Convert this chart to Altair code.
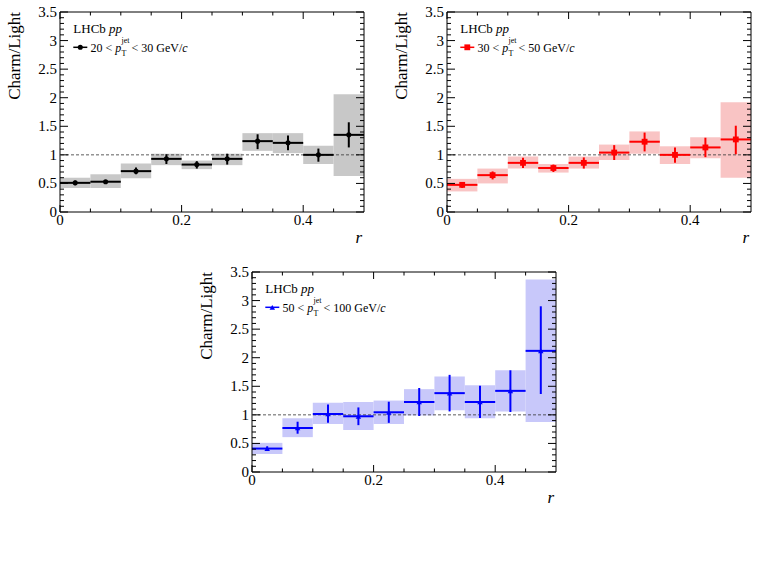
import altair as alt
import pandas as pd

# ---------------- data ----------------
r_edges = [0.0, 0.05, 0.10, 0.15, 0.20, 0.25, 0.30, 0.35, 0.40, 0.45, 0.50]

val1 = [0.51, 0.53, 0.715, 0.93, 0.83, 0.93, 1.24, 1.21, 1.00, 1.35]
box1_lo = [0.42, 0.42, 0.59, 0.82, 0.75, 0.82, 1.07, 1.03, 0.84, 0.63]
box1_hi = [0.60, 0.66, 0.85, 1.02, 0.90, 1.02, 1.38, 1.38, 1.16, 2.06]
err1_lo = [0.47, 0.51, 0.66, 0.84, 0.76, 0.83, 1.10, 1.08, 0.88, 1.13]
err1_hi = [0.55, 0.55, 0.78, 1.01, 0.89, 1.02, 1.36, 1.34, 1.11, 1.57]

val2 = [0.475, 0.645, 0.86, 0.77, 0.86, 1.04, 1.23, 1.00, 1.13, 1.27]
box2_lo = [0.36, 0.50, 0.76, 0.69, 0.76, 0.91, 1.02, 0.84, 0.94, 0.60]
box2_hi = [0.58, 0.76, 0.97, 0.84, 0.97, 1.18, 1.41, 1.15, 1.31, 1.92]
err2_lo = [0.42, 0.57, 0.77, 0.70, 0.76, 0.91, 1.06, 0.86, 0.96, 1.01]
err2_hi = [0.52, 0.71, 0.95, 0.83, 0.955, 1.17, 1.39, 1.13, 1.30, 1.51]

val3 = [0.41, 0.77, 1.015, 0.975, 1.045, 1.225, 1.38, 1.225, 1.42, 2.12]
box3_lo = [0.315, 0.61, 0.84, 0.735, 0.84, 0.99, 1.08, 0.94, 1.06, 0.875]
box3_hi = [0.51, 0.94, 1.21, 1.225, 1.25, 1.45, 1.67, 1.52, 1.78, 3.37]
err3_lo = [0.37, 0.67, 0.86, 0.82, 0.86, 0.98, 1.06, 0.945, 1.05, 1.365]
err3_hi = [0.45, 0.88, 1.18, 1.13, 1.23, 1.47, 1.70, 1.51, 1.78, 2.90]

pt_ranges = [("20", "30"), ("30", "50"), ("50", "100")]
ref_level = [1.0]

x_major = [0.0, 0.2, 0.4]
x_labels = ["0", "0.2", "0.4"]
x_minor = [0.05, 0.10, 0.15, 0.25, 0.30, 0.35, 0.45]
y_major = [0.0, 0.5, 1.0, 1.5, 2.0, 2.5, 3.0, 3.5]
y_labels = ["0", "0.5", "1", "1.5", "2", "2.5", "3", "3.5"]
y_minor = [0.1, 0.2, 0.3, 0.4, 0.6, 0.7, 0.8, 0.9, 1.1, 1.2, 1.3, 1.4,
           1.6, 1.7, 1.8, 1.9, 2.1, 2.2, 2.3, 2.4, 2.6, 2.7, 2.8, 2.9,
           3.1, 3.2, 3.3, 3.4]
x_title = "r"
y_title = "Charm/Light"

# ---------------- style ----------------
SERIF = "Liberation Serif, Times New Roman, serif"
W, H = 304, 200
CW = {"0": .5, "1": .5, "2": .5, "3": .5, "5": .5, " ": .25, "<": .564,
      "G": .722, "e": .444, "V": .722, "/": .278, "L": .611, "H": .722,
      "C": .667, "b": .5, "p": .5, "c": .444}


def tw(s, size):
    return sum(CW.get(ch, 0.5) for ch in s) * size


ONE = pd.DataFrame({"one": ref_level})
xs = alt.Scale(domain=[0, 0.5], nice=False, zero=False)
ys = alt.Scale(domain=[0, 3.5], nice=False, zero=False)


def X(f):
    return alt.X(f, scale=xs, axis=None)


def Y(f):
    return alt.Y(f, scale=ys, axis=None)


def txt(s, x, y, size, italic=False, align="left", angle=0):
    kw = dict(text=s, font=SERIF, fontSize=size, align=align,
              baseline="alphabetic", color="black")
    if italic:
        kw["fontStyle"] = "italic"
    if angle:
        kw["angle"] = angle
    return alt.Chart(ONE).mark_text(**kw).encode(x=alt.value(x), y=alt.value(y))


def pin(x, y):
    # invisible 1px anchor that fixes the layout bounds
    return alt.Chart(ONE).mark_rect(opacity=0).encode(
        x=alt.value(x), x2=alt.value(x + 1), y=alt.value(y), y2=alt.value(y + 1))


def ticks(vals, side, length):
    df = pd.DataFrame({"t": vals})
    c = alt.Chart(df).mark_rule(color="black", strokeWidth=1)
    if side == "left":
        return c.encode(y=Y("t:Q"), x=alt.value(0), x2=alt.value(length))
    if side == "right":
        return c.encode(y=Y("t:Q"), x=alt.value(W), x2=alt.value(W - length))
    if side == "bottom":
        return c.encode(x=X("t:Q"), y=alt.value(H), y2=alt.value(H - length))
    return c.encode(x=X("t:Q"), y=alt.value(0), y2=alt.value(length))


def tick_labels():
    LF = 15
    xl = alt.Chart(pd.DataFrame({"t": x_major, "s": x_labels})).mark_text(
        font=SERIF, fontSize=LF, align="center", baseline="alphabetic", color="black"
    ).encode(x=X("t:Q"), y=alt.value(H + 13), text="s:N")
    yl = alt.Chart(pd.DataFrame({"t": y_major, "s": y_labels})).mark_text(
        font=SERIF, fontSize=LF, align="right", baseline="middle", color="black"
    ).encode(y=Y("t:Q"), x=alt.value(-3), text="s:N")
    xt = txt(x_title, W - 2, H + 31, 17, italic=True, align="right")
    yt = txt(y_title, -40, 0, 17, align="right", angle=270)
    return [xl, yl, xt, yt]


def panel(vals, blo, bhi, elo, ehi, color, fill, shape, msize, pt, extra=()):
    df = pd.DataFrame({
        "x0": r_edges[:-1], "x1": r_edges[1:],
        "val": vals, "blo": blo, "bhi": bhi, "elo": elo, "ehi": ehi,
    })
    df["xc"] = (df["x0"] + df["x1"]) / 2
    base = alt.Chart(df)

    boxes = base.mark_rect(color=fill, opacity=1).encode(
        x=X("x0:Q"), x2="x1:Q", y=Y("blo:Q"), y2="bhi:Q")
    dashed = alt.Chart(ONE).mark_rule(color="#333333", strokeWidth=0.8, strokeDash=[3, 2]).encode(
        y=Y("one:Q"))
    hbar = base.mark_rule(color=color, strokeWidth=2).encode(
        x=X("x0:Q"), x2="x1:Q", y=Y("val:Q"))
    vbar = base.mark_rule(color=color, strokeWidth=2).encode(
        x=X("xc:Q"), y=Y("elo:Q"), y2="ehi:Q")
    pts = base.mark_point(filled=True, opacity=1, color=color, shape=shape, size=msize).encode(
        x=X("xc:Q"), y=Y("val:Q"))

    frame = alt.Chart(ONE).mark_rect(fillOpacity=0, stroke="black", strokeWidth=1).encode(
        x=alt.value(0), x2=alt.value(W), y=alt.value(0), y2=alt.value(H))

    layers = [boxes, dashed, hbar, vbar, pts,
              ticks(y_major, "left", 8), ticks(y_minor, "left", 4),
              ticks(y_major, "right", 8), ticks(y_minor, "right", 4),
              ticks(x_major, "bottom", 7), ticks(x_minor, "bottom", 3.5),
              ticks(x_major, "top", 7), ticks(x_minor, "top", 3.5),
              frame] + tick_labels()

    # legend block
    lx = 13.3
    layers.append(txt("LHCb", lx, 21.3, 13))
    layers.append(txt("pp", lx + tw("LHCb ", 13), 21.3, 13, italic=True))
    layers.append(alt.Chart(ONE).mark_rule(color=color, strokeWidth=1.5).encode(
        x=alt.value(lx), x2=alt.value(lx + 14), y=alt.value(35.3)))
    layers.append(alt.Chart(ONE).mark_point(filled=True, opacity=1, color=color, shape=shape,
                                            size=msize).encode(x=alt.value(lx + 7), y=alt.value(35.3)))
    fs = 12
    bx = 30.5
    lo, hi = pt
    s1 = f"{lo} < "
    layers.append(txt(s1, bx, 39.5, fs))
    px = bx + tw(s1, fs)
    layers.append(txt("p", px, 39.5, fs, italic=True))
    sx = px + 6.2
    layers.append(txt("jet", sx, 31, 8))
    layers.append(txt("T", sx, 43.5, 8))
    s2 = f"< {hi} GeV/"
    x2 = sx + 10
    layers.append(txt(s2, x2, 39.5, fs))
    layers.append(txt("c", x2 + tw(s2, fs), 39.5, fs, italic=True))

    layers.extend(extra)
    return alt.layer(*layers).properties(width=W, height=H)


p1 = panel(val1, box1_lo, box1_hi, err1_lo, err1_hi, "black", "#c8c8c8", "circle", 26,
           pt_ranges[0], extra=(pin(-60, -12), pin(-60, H + 47)))
p2 = panel(val2, box2_lo, box2_hi, err2_lo, err2_hi, "#ff0000", "#f9c4c4", "square", 34,
           pt_ranges[1])
p3 = panel(val3, box3_lo, box3_hi, err3_lo, err3_hi, "#0000ff", "#c8c8fa", "triangle-up", 30,
           pt_ranges[2], extra=(pin(0, -11),))

spacer = alt.Chart(ONE).mark_rect(opacity=0).encode(
    x=alt.value(0), x2=alt.value(10), y=alt.value(0), y2=alt.value(10)).properties(width=192, height=H)

top = alt.hconcat(p1, p2, spacing=83, bounds="flush")
bottom = alt.hconcat(spacer, p3, spacing=0, bounds="flush")
chart = alt.vconcat(top, bottom, spacing=1).properties(
    padding=0, background="white"
).configure_view(strokeOpacity=0)

chart.save("out.html", embed_options={"renderer": "svg", "actions": False})
